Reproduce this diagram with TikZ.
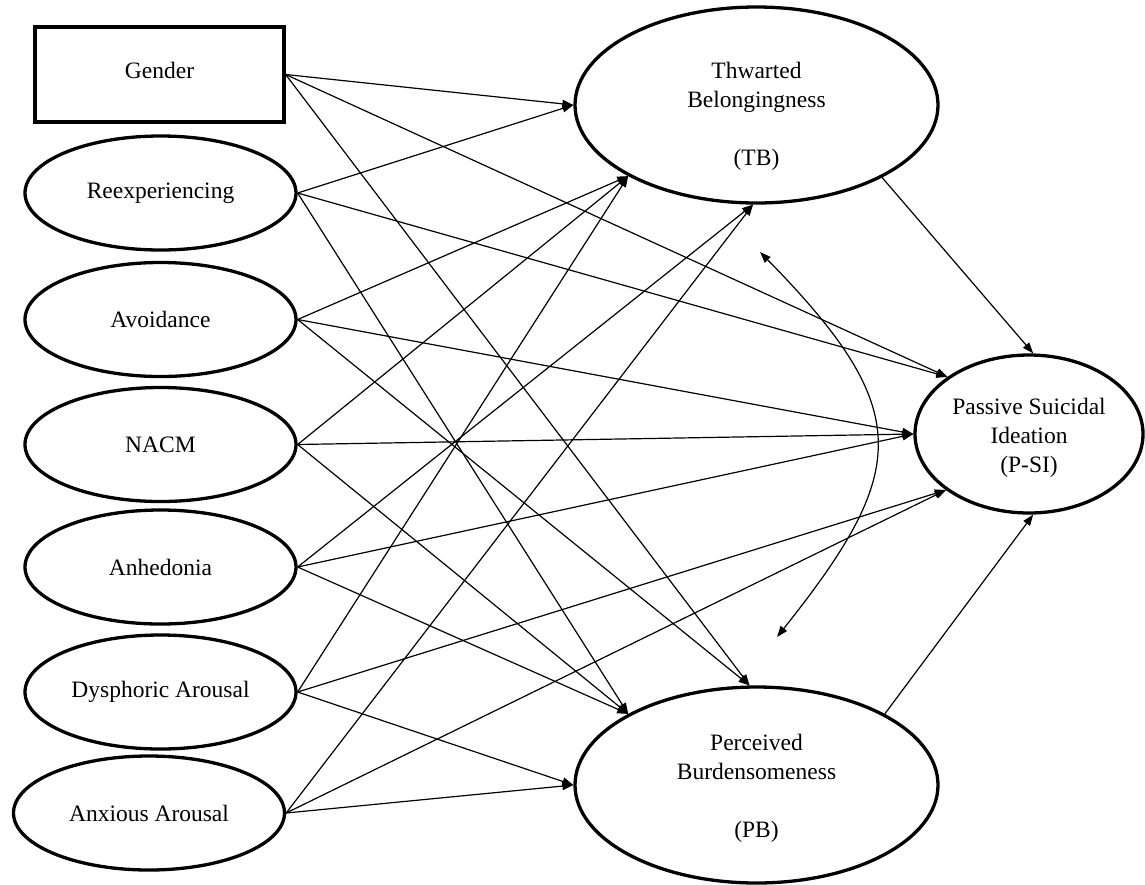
\documentclass[tikz,border=0pt]{standalone}
\usepackage{fontspec}
\setmainfont{Liberation Serif}
\usetikzlibrary{shapes.geometric,arrows.meta}
\begin{document}
\begin{tikzpicture}[x=1pt,y=-1pt,
  txt/.style={font=\fontsize{23.5}{29}\selectfont,align=center},
  box/.style={txt,draw,line width=3.3pt,rectangle,minimum width=249pt,minimum height=95pt,inner sep=0pt},
  lat/.style={txt,draw,line width=3.3pt,ellipse,minimum width=271pt,minimum height=114pt,inner sep=0pt},
  big/.style={draw,line width=3.3pt,ellipse,minimum width=363pt,minimum height=196pt,inner sep=0pt},
  dv/.style={draw,line width=3.3pt,ellipse,minimum width=228pt,minimum height=158pt,inner sep=0pt},
  lbl/.style={txt,inner sep=0pt},
  conn/.style={line width=1.2pt,-{Triangle[length=11pt,width=8pt]}},
  both/.style={line width=1.2pt,{Triangle[length=11pt,width=8pt]}-{Triangle[length=11pt,width=8pt]}}
]
\useasboundingbox (0,0) rectangle (1145,884);

% predictors
\node[box] (G)  at (159.5,74.5) {};
\node[lbl] (Gt) at (159.5,70) {Gender};
\node[lat] (RE) at (160.5,193)   {Reexperiencing};
\node[lat] (AV) at (160.5,319.5) {Avoidance};
\node[lat] (NA) at (160.5,444.5) {NACM};
\node[lat] (AN) at (160.5,567)   {Anhedonia};
\node[lat] (DA) at (160.5,692)   {Dysphoric Arousal};
\node[lat] (AA) at (149,813)     {Anxious Arousal};

% mediators and outcome
\node[big] (TB) at (756.5,105) {};
\node[lbl] (TBt) at (756.5,116) {Thwarted\\Belongingness\\[29pt](TB)};
\node[big] (PB) at (756.5,785) {};
\node[lbl] (PBt) at (756.5,788.5) {Perceived\\Burdensomeness\\[29pt](PB)};
\node[dv] (PS) at (1029,434) {};
\node[lbl] (PSt) at (1029,437.5) {Passive Suicidal\\Ideation\\(P-SI)};

% Gender
\draw[conn] (G.east) -- (TB.west);
\draw[conn] (G.east) -- (PS.145);
\draw[conn] (G.east) -- (PB.94);
% Reexperiencing
\draw[conn] (RE.east) -- (TB.west);
\draw[conn] (RE.east) -- (PS.145);
\draw[conn] (RE.east) -- (PB.151);
% Avoidance
\draw[conn] (AV.east) -- (TB.209);
\draw[conn] (AV.east) -- (PS.west);
\draw[conn] (AV.east) -- (PB.94);
% NACM
\draw[conn] (NA.east) -- (TB.209);
\draw[conn] (NA.east) -- (PS.west);
\draw[conn] (NA.east) -- (PB.151);
% Anhedonia
\draw[conn] (AN.east) -- (TB.268);
\draw[conn] (AN.east) -- (PS.west);
\draw[conn] (AN.east) -- (PB.151);
% Dysphoric Arousal
\draw[conn] (DA.east) -- (TB.209);
\draw[conn] (DA.east) -- (PS.214);
\draw[conn] (DA.east) -- (PB.west);
% Anxious Arousal
\draw[conn] (AA.east) -- (TB.268);
\draw[conn] (AA.east) -- (PS.214);
\draw[conn] (AA.east) -- (PB.west);

% mediators to outcome
\draw[conn] (TB.330) -- (PS.87);
\draw[conn] (PB.29) -- (PS.273);

% covariance
\coordinate (c1) at (760,252);
\coordinate (c2) at (777,637);
\draw[both] (c1) .. controls (915,410) and (910,470) .. (c2);
\end{tikzpicture}
\end{document}
